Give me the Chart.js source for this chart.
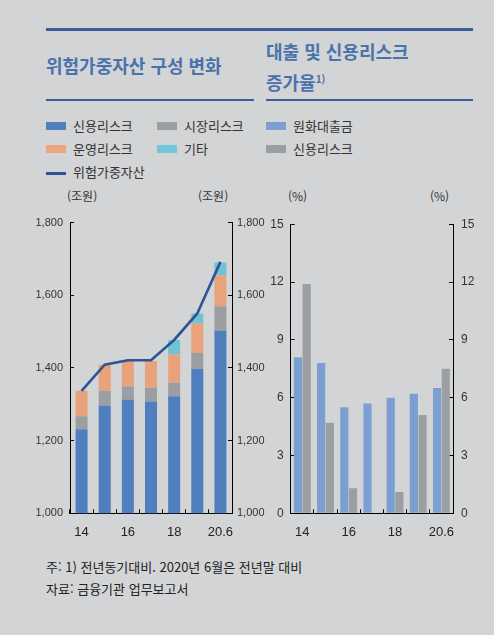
<!DOCTYPE html>
<html lang="ko">
<head>
<meta charset="utf-8">
<script src="https://cdn.jsdelivr.net/npm/chart.js@4.4.1/dist/chart.umd.min.js"></script>
<style>
  body { margin: 0; background: #d3d4d6; width: 494px; height: 635px; position: relative; overflow: hidden;
         font-family: "Noto Sans CJK KR", "Noto Sans", sans-serif; color: #333; }
  .abs { position: absolute; white-space: nowrap; }
  .rule-top { left: 46px; top: 28px; width: 427px; height: 3px; background: #3c5f99; }
  .rule-l { left: 46px; top: 99px; width: 208px; height: 1.5px; background: #3c5f99; }
  .rule-r { left: 266px; top: 99px; width: 207px; height: 1.5px; background: #3c5f99; }
  .title { font-size: 18px; font-weight: bold; color: #4a72aa; line-height: 28px; }
  .title sup { font-size: 10px; vertical-align: 7px; }
  .leg { font-size: 13px; color: #333; line-height: 16px; }
  .sw { display: inline-block; width: 20px; height: 8px; vertical-align: middle; margin-right: 7px; position: relative; top: -1px; }
  .ln { display: inline-block; width: 20px; height: 3px; vertical-align: middle; margin-right: 7px; background: #2f5496; }
  .unit { font-size: 12px; color: #333; }
  .note { font-size: 13px; color: #222; }
  canvas { position: absolute; }
</style>
</head>
<body>
<div class="abs rule-top"></div>
<div class="abs title" style="left:46px; top:51px;">위험가중자산 구성 변화</div>
<div class="abs title" style="left:266px; top:37px;">대출 및 신용리스크<br>증가율<sup>1)</sup></div>
<div class="abs rule-l"></div>
<div class="abs rule-r"></div>

<div class="abs leg" style="left:46px; top:118px;"><span class="sw" style="background:#4f7fbf"></span>신용리스크</div>
<div class="abs leg" style="left:157px; top:118px;"><span class="sw" style="background:#9b9fa2"></span>시장리스크</div>
<div class="abs leg" style="left:266px; top:118px;"><span class="sw" style="background:#7c9fd2"></span>원화대출금</div>
<div class="abs leg" style="left:46px; top:141px;"><span class="sw" style="background:#eca57c"></span>운영리스크</div>
<div class="abs leg" style="left:157px; top:141px;"><span class="sw" style="background:#72c6d9"></span>기타</div>
<div class="abs leg" style="left:266px; top:141px;"><span class="sw" style="background:#9b9fa2"></span>신용리스크</div>
<div class="abs leg" style="left:46px; top:164px;"><span class="ln"></span>위험가중자산</div>

<div class="abs unit" style="left:67px; top:187px;">(조원)</div>
<div class="abs unit" style="left:198px; top:187px;">(조원)</div>
<div class="abs unit" style="left:288px; top:187px;">(%)</div>
<div class="abs unit" style="left:430px; top:187px;">(%)</div>

<canvas id="rwaChart" width="270" height="340" style="left:20px; top:205px;"></canvas>
<canvas id="growthChart" width="229" height="340" style="left:265px; top:205px;"></canvas>

<div class="abs note" style="left:46px; top:557px;">주: 1) 전년동기대비. 2020년 6월은 전년말 대비</div>
<div class="abs note" style="left:46px; top:579px;">자료: 금융기관 업무보고서</div>

<script>
const years = ["14", "15", "16", "17", "18", "19", "20.6"]

// 위험가중자산 구성 (조원)
const creditRisk = [1231, 1297, 1313, 1308, 1322, 1398, 1502]
const marketRisk = [36, 40, 36, 38, 37, 43, 68]
const operRisk = [70, 72, 70, 73, 78, 82, 85]
const otherRisk = [0, 0, 0, 0, 40, 27, 35]
const rwaTotal = [1337, 1409, 1421, 1421, 1477, 1550, 1692]
const rwaTicks = [1000, 1200, 1400, 1600, 1800]

// 증가율 (%)
const loanGrowth = [8.1, 7.8, 5.5, 5.7, 6.0, 6.2, 6.5]
const creditGrowth = [11.9, 4.7, 1.3, 0, 1.1, 5.1, 7.5]
const pctTicks = [0, 3, 6, 9, 12, 15]

const tickFont = { family: "'Liberation Sans Narrow', 'Liberation Sans', Arial, sans-serif", size: 11 }
const pctFont = { family: "'Liberation Sans Narrow', 'Liberation Sans', Arial, sans-serif", size: 12 }
const xFont = { family: "'Liberation Sans', Arial, sans-serif", size: 13 }

function fixWidth(w) { return function (scale) { scale.width = w } }
function fixHeight(h) { return function (scale) { scale.height = h } }

function xAxis() {
    return {
        offset: true,
        grid: { display: true, drawOnChartArea: false, tickLength: -4, color: "#000", offset: true },
        border: { display: true, color: "#000", width: 1 },
        ticks: {
            font: xFont, color: "#222", padding: 15, autoSkip: false, maxRotation: 0,
            callback: function (v, i) { return i % 2 === 0 ? this.getLabelForValue(v) : "" }
        },
        afterFit: fixHeight(31.7)
    }
}

function yAxis(pos, min, max, ticks, fmt, width, pad, font) {
    return {
        position: pos, min: min, max: max,
        afterBuildTicks: function (scale) { scale.ticks = ticks.map(v => ({ value: v })) },
        grid: { display: true, drawOnChartArea: false, tickLength: -4, color: "#000" },
        border: { display: true, color: "#000", width: 1 },
        ticks: { font: font, color: "#333", padding: pad, callback: fmt },
        afterFit: fixWidth(width)
    }
}

const comma = v => v.toLocaleString("en-US")

new Chart(document.getElementById("rwaChart"), {
    data: {
        labels: years,
        datasets: [
            { type: "line", label: "위험가중자산", data: rwaTotal, yAxisID: "y1",
              borderColor: "#2f5496", borderWidth: 2.6, pointRadius: 0, tension: 0, order: 0 },
            { type: "bar", label: "신용리스크", data: creditRisk, backgroundColor: "#4f7fbf", order: 1 },
            { type: "bar", label: "시장리스크", data: marketRisk, backgroundColor: "#9b9fa2", order: 1 },
            { type: "bar", label: "운영리스크", data: operRisk, backgroundColor: "#e8a27c", order: 1 },
            { type: "bar", label: "기타", data: otherRisk, backgroundColor: "#6fc3d6", order: 1 }
        ]
    },
    options: {
        responsive: false,
        animation: false,
        layout: { padding: { top: 15.7, left: 0, right: 0, bottom: 0 } },
        datasets: { bar: { barPercentage: 1, categoryPercentage: 0.52 } },
        plugins: { legend: { display: false }, tooltip: { enabled: false } },
        scales: {
            x: Object.assign(xAxis(), { stacked: true }),
            y: Object.assign(yAxis("left", 1000, 1800, rwaTicks, comma, 50, 11, tickFont), { stacked: true }),
            y1: yAxis("right", 1000, 1800, rwaTicks, comma, 58, 9, tickFont)
        }
    }
})

new Chart(document.getElementById("growthChart"), {
    type: "bar",
    data: {
        labels: years,
        datasets: [
            { label: "원화대출금", data: loanGrowth, backgroundColor: "#7c9fd2" },
            { label: "신용리스크", data: creditGrowth, backgroundColor: "#9b9fa2" }
        ]
    },
    options: {
        responsive: false,
        animation: false,
        layout: { padding: { top: 15.7, left: 0, right: 0, bottom: 0 } },
        datasets: { bar: { barPercentage: 0.94, categoryPercentage: 0.75 } },
        plugins: { legend: { display: false }, tooltip: { enabled: false } },
        scales: {
            x: xAxis(),
            y: yAxis("left", 0, 15, pctTicks, v => v, 25.7, 11, pctFont),
            y1: yAxis("right", 0, 15, pctTicks, v => v, 41, 12, pctFont)
        }
    }
})
</script>
</body>
</html>
